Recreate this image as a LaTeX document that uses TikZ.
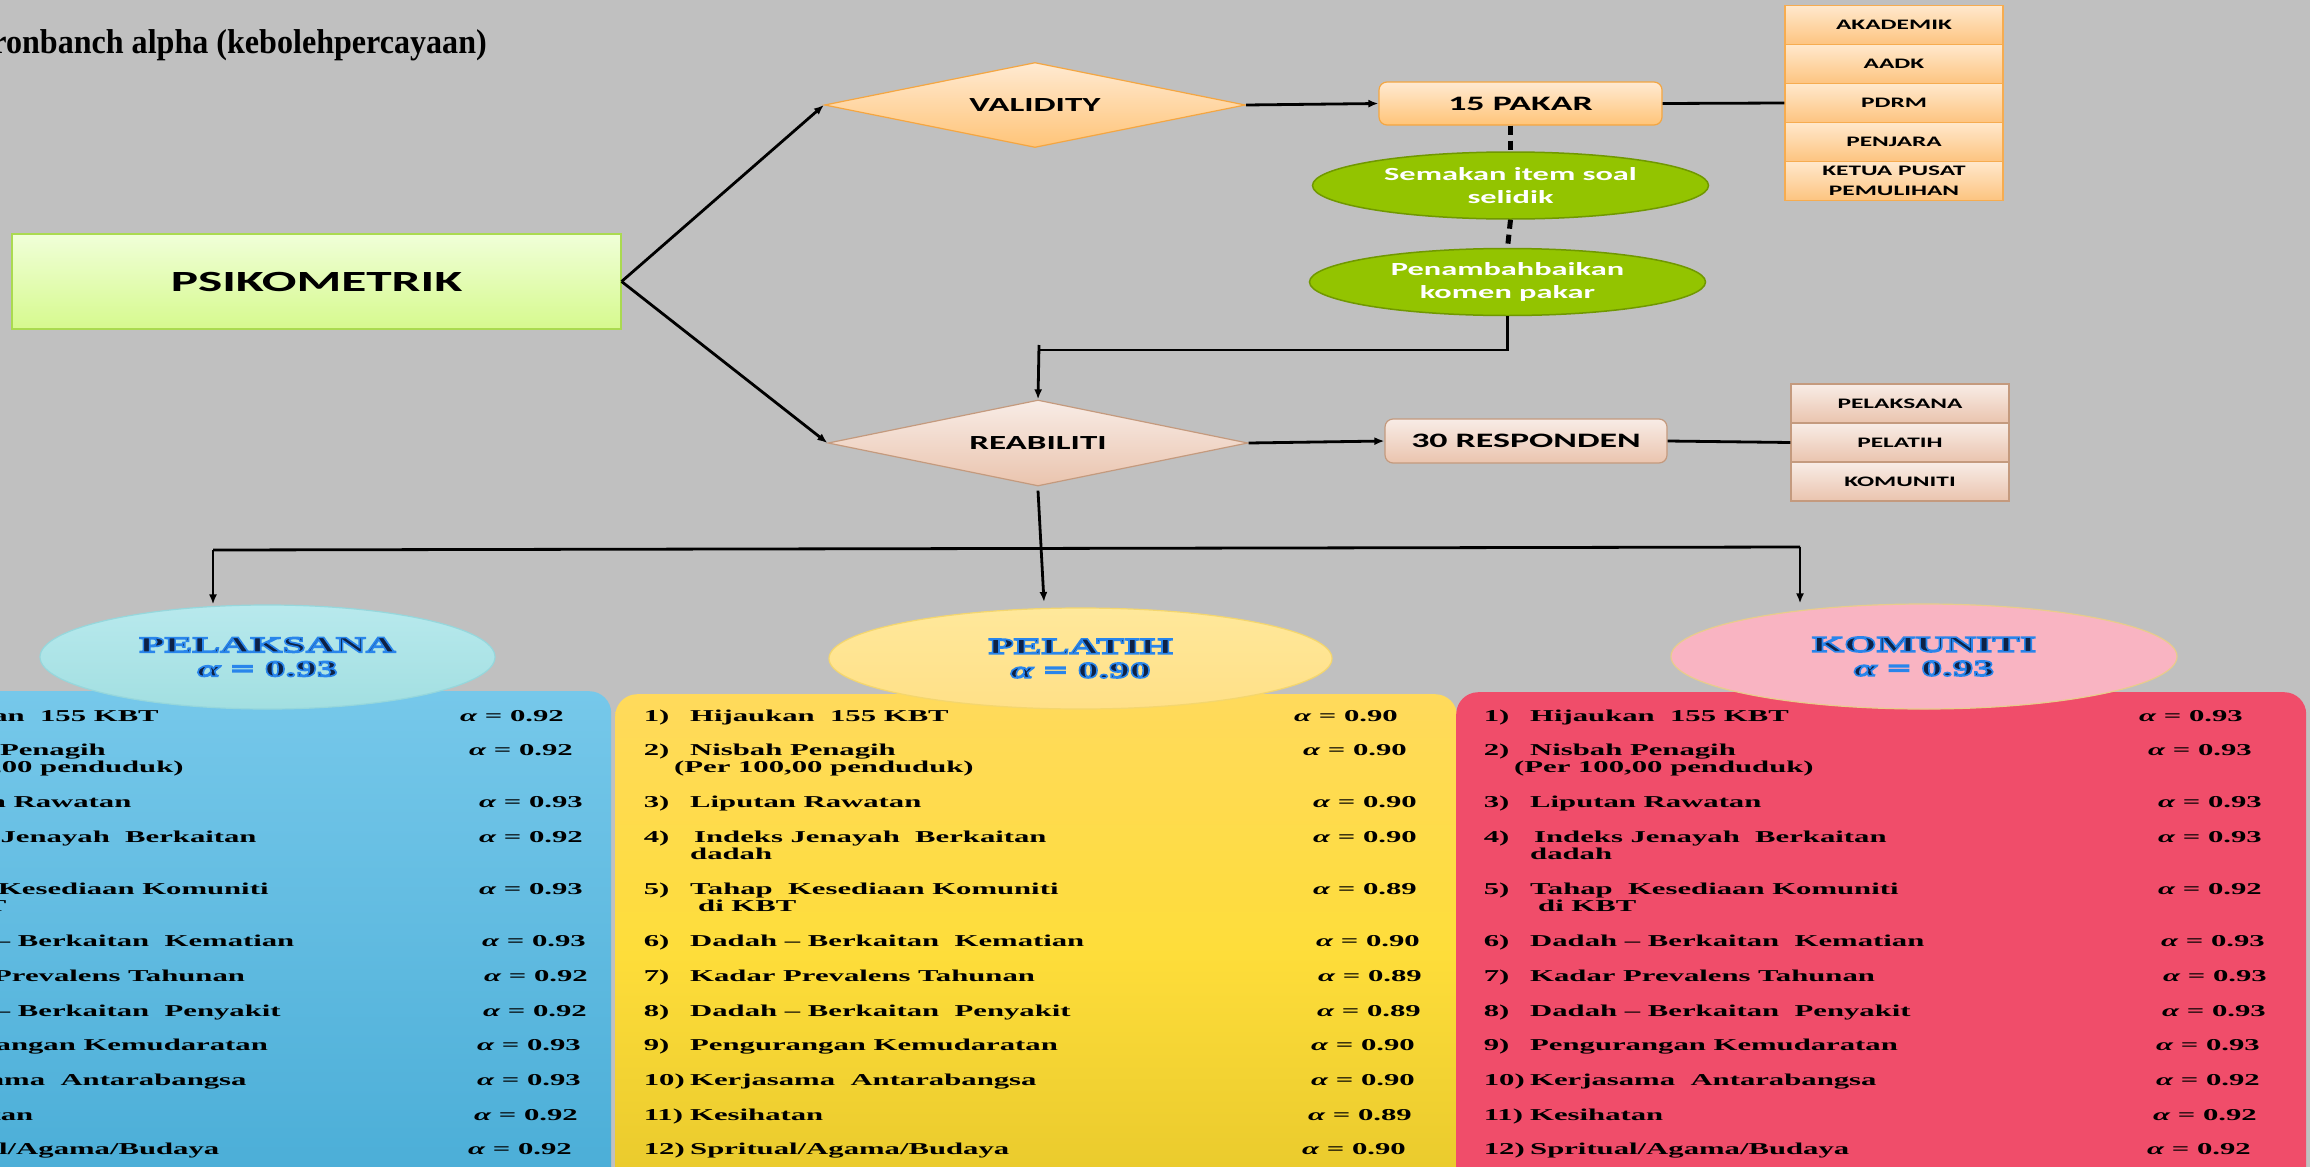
\documentclass[tikz,border=0pt]{standalone}
\usepackage{fontspec}
\usetikzlibrary{shapes.geometric,arrows.meta,calc}
\newfontfamily\swide[FakeStretch=1.75]{Carlito}
\newfontfamily\rwide[FakeStretch=1.85]{Liberation Serif}
\newfontfamily\rtitle[FakeStretch=0.93]{Liberation Serif}
\newcommand\outl[1]{\special{pdf:literal direct q 2 Tr 1.6 w 0.16 0.52 0.92 RG}#1\special{pdf:literal direct Q}}
\definecolor{bg}{RGB}{192,192,192}
\definecolor{ortop}{RGB}{255,234,210}
\definecolor{orbot}{RGB}{255,196,120}
\definecolor{orline}{RGB}{244,166,66}
\definecolor{celltop}{RGB}{255,232,204}
\definecolor{cellbot}{RGB}{253,196,128}
\definecolor{cellline}{RGB}{246,172,80}
\definecolor{brtop}{RGB}{248,236,230}
\definecolor{brbot}{RGB}{234,196,174}
\definecolor{brline}{RGB}{196,154,126}
\definecolor{psitop}{RGB}{240,255,216}
\definecolor{psibot}{RGB}{214,249,142}
\definecolor{psiline}{RGB}{170,218,80}
\definecolor{gfill}{RGB}{147,196,0}
\definecolor{gline}{RGB}{112,152,0}
\definecolor{bluetop}{RGB}{118,200,234}
\definecolor{bluebot}{RGB}{72,172,214}
\definecolor{yeltop}{RGB}{255,218,92}
\definecolor{yelmid}{RGB}{254,221,58}
\definecolor{yelbot}{RGB}{230,199,42}
\definecolor{redfill}{RGB}{240,77,106}
\definecolor{e1top}{RGB}{184,233,237}
\definecolor{e1bot}{RGB}{162,223,225}
\definecolor{e1line}{RGB}{150,215,220}
\definecolor{e2top}{RGB}{255,232,155}
\definecolor{e2bot}{RGB}{255,224,135}
\definecolor{e2line}{RGB}{244,214,110}
\definecolor{e3fill}{RGB}{249,180,194}
\definecolor{e3line}{RGB}{232,204,140}
\definecolor{headblue}{RGB}{14,34,70}
\tikzset{
  conn/.style={line width=2.8pt, draw=black},
  arr/.style={conn, -{Latex[length=10pt,width=8pt]}},
  dsh/.style={line width=5pt, dash pattern=on 9pt off 6pt},
  diam/.style={diamond, inner sep=0pt, aspect=4.95, line width=1.2pt,
    font=\swide\bfseries\fontsize{20}{24}\selectfont},
  rbox/.style={rectangle, rounded corners=8pt, inner sep=0pt, line width=1.2pt,
    font=\swide\bfseries\fontsize{20.5}{24}\selectfont},
  cello/.style={rectangle, draw=cellline, line width=1.2pt, top color=celltop, bottom color=cellbot,
    minimum width=218pt, minimum height=38.9pt, inner sep=0pt, align=center,
    font=\swide\bfseries\fontsize{14.5}{20}\selectfont},
  cellb/.style={rectangle, draw=brline, line width=1.2pt, top color=brtop, bottom color=brbot,
    minimum width=218pt, minimum height=39pt, inner sep=0pt, align=center,
    font=\swide\bfseries\fontsize{14.5}{20}\selectfont},
  gell/.style={ellipse, draw=gline, line width=1.5pt, fill=gfill, text=white, inner sep=0pt,
    align=center, minimum width=396pt, minimum height=67pt,
    font=\swide\bfseries\fontsize{18.5}{23}\selectfont},
  panel/.style={rectangle, rounded corners=22pt, anchor=north west, inner sep=0pt,
    minimum height=520pt},
  hell/.style={ellipse, inner sep=0pt, line width=1.2pt, align=center, text=headblue,
    font=\rwide\bfseries\fontsize{22.5}{24}\selectfont},
  itemt/.style={anchor=base west, inner sep=0pt, text=black,
    font=\rwide\bfseries\fontsize{16.6}{17}\selectfont},
  alph/.style={anchor=base west, inner sep=0pt, text=black,
    font=\rwide\bfseries\fontsize{16.6}{17}\selectfont},
}
\begin{document}
\begin{tikzpicture}[x=1pt,y=-1pt]
\useasboundingbox (0,0) rectangle (2310,1167);
\clip (0,0) rectangle (2310,1167);
\fill[bg] (0,0) rectangle (2310,1167);

% title
\node[anchor=base east, inner sep=0pt, font=\rtitle\bfseries\fontsize{34.5}{40}\selectfont]
  (title) at (487,53) {ronbanch alpha (kebolehpercayaan)};

% upper part
\node[rectangle, draw=psiline, line width=1.2pt, top color=psitop, bottom color=psibot,
  minimum width=609pt, minimum height=95pt, inner sep=0pt,
  font=\swide\bfseries\fontsize{29.3}{34}\selectfont] (psi) at (316.5,281.5) {PSIKOMETRIK};

\node[diam, draw=orline, top color=ortop, bottom color=orbot,
  minimum width=421pt, minimum height=85pt] (val) at (1035,105) {VALIDITY};
\node[rbox, draw=orline, top color=ortop, bottom color=orbot,
  minimum width=283pt, minimum height=43pt] (pakar) at (1520.5,103.5) {15 PAKAR};

\node[cello] (o1) at (1894,25.2) {AKADEMIK};
\node[cello] (o2) at (1894,64.1) {AADK};
\node[cello] (o3) at (1894,103) {PDRM};
\node[cello] (o4) at (1894,141.9) {PENJARA};
\node[cello] (o5) at (1894,180.8) {KETUA PUSAT\\PEMULIHAN};

\node[gell] (sem) at (1510.5,185.5) {Semakan item soal\\selidik};
\node[gell] (pen) at (1507.5,282) {Penambahbaikan\\komen pakar};

\node[diam, draw=brline, top color=brtop, bottom color=brbot,
  minimum width=420pt, minimum height=86pt] (reab) at (1038,443) {REABILITI};
\node[rbox, draw=brline, top color=brtop, bottom color=brbot,
  minimum width=282pt, minimum height=44pt] (resp) at (1526,441) {30 RESPONDEN};

\node[cellb] (b1) at (1900,403.5) {PELAKSANA};
\node[cellb] (b2) at (1900,442.5) {PELATIH};
\node[cellb] (b3) at (1900,481.5) {KOMUNITI};

% panels
\node[panel, top color=bluetop, bottom color=bluebot, minimum width=787pt] (pb) at (-176,691) {};
\node[panel, top color=yeltop, bottom color=yelbot, middle color=yelmid, minimum width=842pt] (py) at (615,694) {};
\node[panel, fill=redfill, minimum width=850pt] (pr) at (1456,692) {};

% heading ellipses
\node[hell, draw=e1line, top color=e1top, bottom color=e1bot,
  minimum width=455pt, minimum height=104pt] (e1) at (267.5,657) {\outl{PELAKSANA}\\\outl{{\itshape α} = 0.93}};
\node[hell, draw=e2line, top color=e2top, bottom color=e2bot,
  minimum width=503pt, minimum height=101pt] (e2) at (1080.5,658.5) {\outl{PELATIH}\\\outl{{\itshape α} = 0.90}};
\node[hell, draw=e3line, fill=e3fill,
  minimum width=506pt, minimum height=105pt] (e3) at (1924,656.5) {\outl{KOMUNITI}\\\outl{{\itshape α} = 0.93}};

% rows
\foreach \n/\yy/\num/\txt/\ax/\va/\vb/\vc in {
  1/716/1)/{Hijaukan~~155 KBT}/1294/0.92/0.90/0.93,
  2/750/2)/{Nisbah Penagih}/1303/0.92/0.90/0.93,
  3/802/3)/{Liputan Rawatan}/1313/0.93/0.90/0.93,
  4/837/4)/{\hspace{4pt}Indeks Jenayah~~Berkaitan}/1313/0.92/0.90/0.93,
  5/889/5)/{Tahap~~Kesediaan Komuniti}/1313/0.93/0.89/0.92,
  6/941/6)/{Dadah – Berkaitan~~Kematian}/1316/0.93/0.90/0.93,
  7/976/7)/{Kadar Prevalens Tahunan}/1318/0.92/0.89/0.93,
  8/1011/8)/{Dadah – Berkaitan~~Penyakit}/1317/0.92/0.89/0.93,
  9/1045/9)/{Pengurangan Kemudaratan}/1311/0.93/0.90/0.93,
  10/1080/10)/{Kerjasama~~Antarabangsa}/1311/0.93/0.90/0.92,
  11/1115/11)/{Kesihatan}/1308/0.92/0.89/0.92,
  12/1149/12)/{Spritual/Agama/Budaya}/1302/0.92/0.90/0.92}{
  \foreach \p/\dx in {b/-790, y/0, r/840}{
    \node[itemt] (t\p\n) at (643.6+\dx,\yy+5.5) {\makebox[46.4pt][l]{\num}\txt};
  }
  \node[alph] (ab\n) at (\ax-834,\yy+5.5) {{\itshape α} = \va};
  \node[alph] (ay\n) at (\ax,\yy+5.5) {{\itshape α} = \vb};
  \node[alph] (ar\n) at (\ax+845,\yy+5.5) {{\itshape α} = \vc};
}
\foreach \p/\dx in {b/-790, y/0, r/840}{
  \node[itemt] (s2\p) at (674+\dx,772.5) {(Per 100,00 penduduk)};
  \node[itemt] (s4\p) at (690+\dx,859.5) {dadah};
  \node[itemt] (s5\p) at (698+\dx,911.5) {di KBT};
}

% connectors
\draw[arr] (psi.east) -- (val.west);
\draw[arr] (psi.east) -- (reab.west);
\draw[arr] (val.east) -- (pakar.west);
\draw[conn] (pakar.east) -- (o3.west);
\draw[conn, dsh] (sem.north |- pakar.south) -- (sem.north);
\draw[conn, dsh] (sem.south) -- (pen.north);
\coordinate (j1) at (1039,350);
\coordinate (j1t) at (1039,345);
\draw[conn] (pen.south) |- (j1);
\draw[arr] (j1t) -- (reab.north);
\draw[arr] (reab.east) -- (resp.west);
\draw[conn] (resp.east) -- (b2.west);
\coordinate (busL) at (213,550);
\coordinate (busR) at (1800,547);
\coordinate (c2) at (1044,602);
\draw[conn] (busL) -- (busR);
\draw[arr] ($(reab.south)+(0,4)$) -- (c2);
\draw[arr] (busL) -- (busL |- e1.north);
\draw[arr] (busR) -- (busR |- e3.north);
\end{tikzpicture}
\end{document}
